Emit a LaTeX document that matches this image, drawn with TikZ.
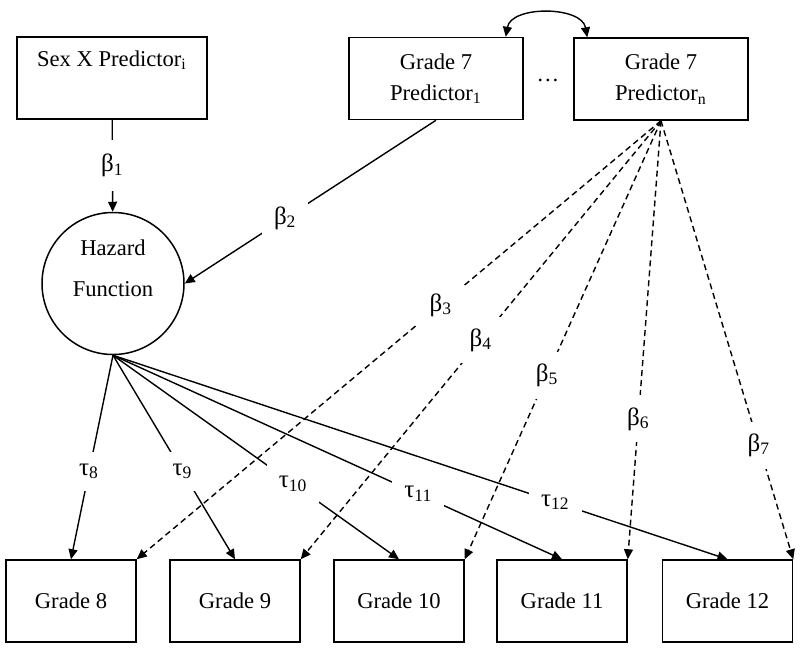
\documentclass[tikz,border=0pt]{standalone}
\usepackage{fontspec}
\setmainfont{Liberation Serif}
\usetikzlibrary{arrows.meta}
\tikzset{
  var/.style={draw, line width=0.75pt, minimum height=41pt, align=center, inner sep=2pt},
  hazard/.style={draw, circle, line width=0.75pt, minimum size=71pt, align=center, inner sep=0pt},
  coef/.style={fill=white, inner sep=6pt, font=\fontsize{12.5}{14}\selectfont},
  reg/.style={-{Triangle[length=5pt,width=4.5pt]}, line width=0.7pt},
  regdash/.style={reg, dash pattern=on 3pt off 2pt}
}
\begin{document}
\begin{tikzpicture}[x=0.5pt, y=-0.5pt, every node/.style={font=\fontsize{11.3}{13.6}\selectfont}]
                \useasboundingbox (0,0) rectangle (800,650);

                \node[var, minimum width=95pt] (sex) at (112,78) {Sex X Predictor\textsubscript{i}\\[6pt]};
                \node[var, minimum width=87pt] (p1) at (436,78.5) {Grade 7\\[2pt]Predictor\textsubscript{1}};
                \node[var, minimum width=87pt] (pn) at (661,79) {Grade 7\\[2pt]Predictor\textsubscript{n}};
                \node (dots) at (548,80) {\dots};
                \node[hazard] (hz) at (113,283.5) {Hazard\\[7pt]Function\\[2pt]};

                \node[var, minimum width=65pt] (g8) at (71,601) {Grade 8};
                \node[var, minimum width=65pt] (g9) at (235,601) {Grade 9};
                \node[var, minimum width=65pt] (g10) at (399,601) {Grade 10};
                \node[var, minimum width=65pt] (g11) at (562,601) {Grade 11};
                \node[var, minimum width=65pt] (g12) at (727.5,601) {Grade 12};

                \coordinate (c1) at ([xshift=-9pt]p1.north east);
                \coordinate (cn) at ([xshift=7pt]pn.north west);
                \draw[reg, {Triangle[length=5pt,width=4.5pt]}-{Triangle[length=5pt,width=4.5pt]}] (c1) to[out=80, in=100] (cn);

                \draw[reg] (sex) to node[coef, pos=0.5, inner sep=7pt] {β\textsubscript{1}} (hz);
                \draw[reg] (p1.south) to node[coef, pos=0.6] {β\textsubscript{2}} (hz.east);

                \draw[reg] (hz.south) to node[coef, pos=0.57] {τ\textsubscript{8}} (g8.north);
                \draw[reg] (hz.south) to node[coef, pos=0.57] {τ\textsubscript{9}} (g9.north);
                \draw[reg] (hz.south) to node[coef, pos=0.63] {τ\textsubscript{10}} (g10.north);
                \draw[reg] (hz.south) to node[coef, pos=0.68] {τ\textsubscript{11}} (g11.north);
                \draw[reg] (hz.south) to node[coef, pos=0.72] {τ\textsubscript{12}} (g12.north);

                \draw[regdash] (pn.south) to node[coef, pos=0.42] {β\textsubscript{3}} (g8.north east);
                \draw[regdash] (pn.south) to node[coef, pos=0.5] {β\textsubscript{4}} (g9.north east);
                \draw[regdash] (pn.south) to node[coef, pos=0.58] {β\textsubscript{5}} (g10.north east);
                \draw[regdash] (pn.south) to node[coef, pos=0.68] {β\textsubscript{6}} (g11.north east);
                \draw[regdash] (pn.south) to node[coef, pos=0.74] {β\textsubscript{7}} (g12.north east);
            \end{tikzpicture}
\end{document}
